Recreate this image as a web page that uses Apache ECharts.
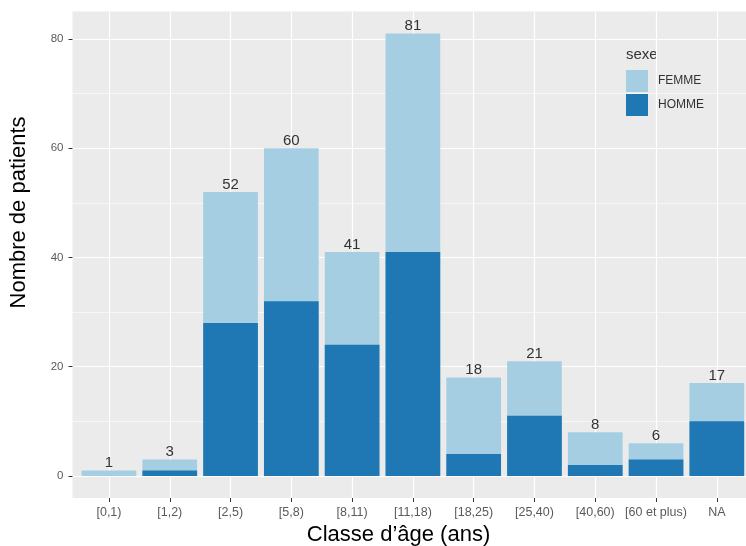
<!DOCTYPE html>
<html><head><meta charset="utf-8">
<script src="https://cdn.jsdelivr.net/npm/echarts@6/dist/echarts.min.js"></script>
<style>html,body{margin:0;padding:0;background:#fff}#c{width:746px;height:546px}</style>
</head><body><div id="c"></div>
<script>
const categories = ['[0,1)','[1,2)','[2,5)','[5,8)','[8,11)','[11,18)','[18,25)','[25,40)','[40,60)','[60 et plus)','NA'];
const femme = [1,2,24,28,17,40,14,10,6,3,7];
const homme = [0,1,28,32,24,41,4,11,2,3,10];
const yTicks = [0,20,40,60,80];
const yMinor = [10,30,50,70];

const totals = femme.map((f,i)=>f+homme[i]);
const idx = categories.map((_,i)=>i);
const FONT = '"Liberation Sans", Arial, sans-serif';

const chart = echarts.init(document.getElementById('c'));
chart.setOption({
  animation: false,
  textStyle: {fontFamily: FONT},
  grid: {left: 72.5, right: 0, top: 11.5, bottom: 48, show: true, backgroundColor: '#ebebeb', borderWidth: 0, containLabel: false},
  xAxis: {
    type: 'value', min: -0.6, max: 10.48,
    axisLine: {show: false, onZero: false},
    axisTick: {show: true, customValues: idx, length: 4, lineStyle: {color: '#333', width: 1}},
    axisLabel: {customValues: idx, formatter: v => categories[Math.round(v)], color: '#5a5a5a', fontSize: 12.5, margin: 8, fontFamily: FONT},
    splitLine: {show: true, lineStyle: {color: '#fff', width: 1.2}}
  },
  yAxis: [{
    type: 'value', min: -4.05, max: 85.05,
    axisLine: {show: false, onZero: false},
    axisTick: {show: true, customValues: yTicks, length: 4, lineStyle: {color: '#333', width: 1}},
    axisLabel: {customValues: yTicks, color: '#5a5a5a', fontSize: 11.5, margin: 9, fontFamily: FONT},
    splitLine: {show: true, lineStyle: {color: '#fff', width: 1.2}}
  },{
    type: 'value', min: -4.05, max: 85.05, position: 'left',
    axisLine: {show: false, onZero: false},
    axisTick: {show: false, customValues: yMinor},
    axisLabel: {show: false, customValues: yMinor},
    splitLine: {show: true, lineStyle: {color: '#fff', width: 0.6}}
  }],
  legend: {
    orient: 'vertical', left: 626, top: 70, padding: 0, itemWidth: 22, itemHeight: 22, itemGap: 2,
    icon: 'rect', data: ['FEMME','HOMME'],
    textStyle: {fontSize: 12, color: '#333', fontFamily: FONT, padding: [0,0,0,5]}
  },
  series: [{
    name: 'FEMME', type: 'bar', barWidth: 54.7, barGap: '-100%',
    itemStyle: {color: '#a6cee3'},
    data: totals.map((t,i)=>[i,t]),
    label: {show: true, position: 'top', distance: 0, formatter: p => p.value[1], fontSize: 15, color: '#333', fontFamily: FONT}
  },{
    name: 'HOMME', type: 'bar', barWidth: 54.7, barGap: '-100%',
    itemStyle: {color: '#1f78b4'},
    data: homme.map((h,i)=>[i,h])
  }],
  graphic: [
    {type: 'text', x: 18.5, y: 212.5, rotation: Math.PI/2, style: {text: 'Nombre de patients', fontSize: 22, fill: '#000', align: 'center', verticalAlign: 'middle', fontFamily: FONT}},
    {type: 'text', x: 398.5, y: 534.5, style: {text: 'Classe d’âge (ans)', fontSize: 22, fill: '#000', align: 'center', verticalAlign: 'middle', fontFamily: FONT}},
    {type: 'text', x: 626, y: 55, style: {text: 'sexe', fontSize: 15, fill: '#333', align: 'left', verticalAlign: 'middle', fontFamily: FONT}}
  ]
});
</script></body></html>
